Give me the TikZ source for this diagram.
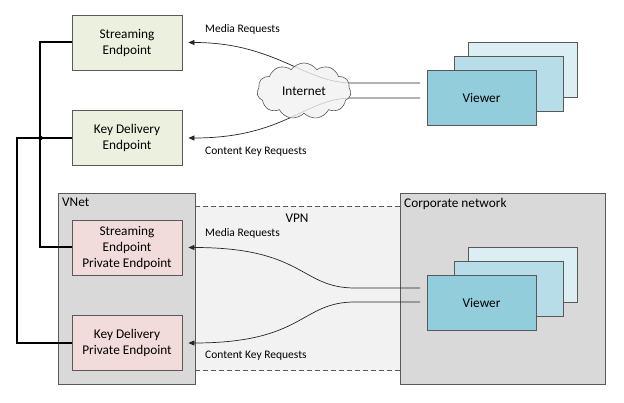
\documentclass[tikz,border=0pt]{standalone}
\usepackage{fontspec}
\setmainfont{Carlito}
\usetikzlibrary{shapes.symbols,arrows.meta}
\definecolor{bordergray}{HTML}{595959}
\definecolor{greenfill}{HTML}{EBF1DE}
\definecolor{pinkfill}{HTML}{F2DCDB}
\definecolor{netfill}{HTML}{D9D9D9}
\definecolor{vpnfill}{HTML}{F2F2F2}
\definecolor{vfront}{HTML}{92CDDC}
\definecolor{vmid}{HTML}{B7DEE8}
\definecolor{vback}{HTML}{DAEEF3}
\begin{document}
\begin{tikzpicture}[x=1pt,y=-1pt,
  boxtxt/.style={font=\fontsize{13.3}{16}\selectfont},
  epbox/.style={draw=bordergray, line width=0.8pt, align=center, boxtxt, inner sep=0pt, minimum width=110pt, minimum height=55pt},
  greenbox/.style={epbox, fill=greenfill},
  pinkbox/.style={epbox, fill=pinkfill},
  viewerbox/.style={draw=bordergray, line width=0.8pt, boxtxt, inner sep=0pt, minimum width=109pt, minimum height=55pt},
  container/.style={draw=bordergray, line width=0.8pt, fill=netfill, inner sep=0pt},
  req/.style={font=\fontsize{11.5}{14}\selectfont, anchor=west, inner sep=0pt},
  link/.style={draw=black!85, line width=0.7pt, -{Triangle[length=6pt,width=5pt]}, shorten >=6pt},
  bus/.style={line width=2pt, draw=black},
  vpnline/.style={draw=bordergray, line width=0.8pt, dash pattern=on 5pt off 3pt}
]
\useasboundingbox[fill=white] (0,0) rectangle (624,403);

% VPN region
\fill[vpnfill] (195,206) rectangle (400,370);
\draw[vpnline] (195,206) -- (400,206);
\draw[vpnline] (195,370) -- (400,370);
\node[boxtxt] (vpn) at (297,218) {VPN};

% containers
\node[container, minimum width=137pt, minimum height=191pt] (vnet) at (126.5,288.5) {};
\node[boxtxt, anchor=north west, inner sep=0pt] (vnetlbl) at (62,198) {VNet};
\node[container, minimum width=205pt, minimum height=191pt] (corp) at (502.5,288.5) {};
\node[boxtxt, anchor=north west, inner sep=0pt] (corplbl) at (404,198) {Corporate network};

% endpoint boxes
\node[greenbox] (se) at (127,42.5) {Streaming\\Endpoint};
\node[greenbox] (kd) at (127,138) {Key Delivery\\Endpoint};
\node[pinkbox] (spe) at (127,247.5) {Streaming\\Endpoint\\Private Endpoint};
\node[pinkbox] (kdpe) at (127,343) {Key Delivery\\Private Endpoint};

% bus connectors
\draw[bus] (se.west) -- ++(-31.5,0) |- (spe.west);
\draw[bus] (kd.west) -- ++(-54.5,0) |- (kdpe.west);
\fill (40.5,138) circle (2.2pt);

% viewers top
\node[viewerbox, fill=vback] (vtb) at (522.5,70) {};
\node[viewerbox, fill=vmid] (vtm) at (508.5,84) {};
\node[viewerbox, fill=vfront] (vtf) at (481.5,97.5) {Viewer};
% viewers bottom
\node[viewerbox, fill=vback] (vbb) at (522.5,274.5) {};
\node[viewerbox, fill=vmid] (vbm) at (508.5,288.5) {};
\node[viewerbox, fill=vfront] (vbf) at (481.5,302.5) {Viewer};

% free ends
\coordinate (t1) at (420,83);
\coordinate (t2) at (420,98);
\coordinate (b1) at (420,288);
\coordinate (b2) at (420,302);

% internet requests
\draw[link] (t1) -- (352,83) .. controls (305,83) and (275,42.5) .. (se.east);
\draw[link] (t2) -- (352,98) .. controls (305,98) and (285,138) .. (kd.east);
\node[req] (mr1) at (205,29) {Media Requests};
\node[req] (ck1) at (205,152) {Content Key Requests};

% cloud
\node[cloud, cloud puffs=11, cloud puff arc=110, aspect=1.7, draw=bordergray, line width=0.6pt,
      fill=vpnfill, fill opacity=0.8, text opacity=1, minimum width=94pt, minimum height=56pt,
      inner sep=0pt, boxtxt] (net) at (304,91) {Internet};

% VPN requests
\draw[link] (b1) -- (355,288) .. controls (300,288) and (305,247.5) .. (spe.east);
\draw[link] (b2) -- (355,302) .. controls (300,302) and (305,343) .. (kdpe.east);
\node[req] (mr2) at (205,233) {Media Requests};
\node[req] (ck2) at (205,356) {Content Key Requests};
\end{tikzpicture}
\end{document}
